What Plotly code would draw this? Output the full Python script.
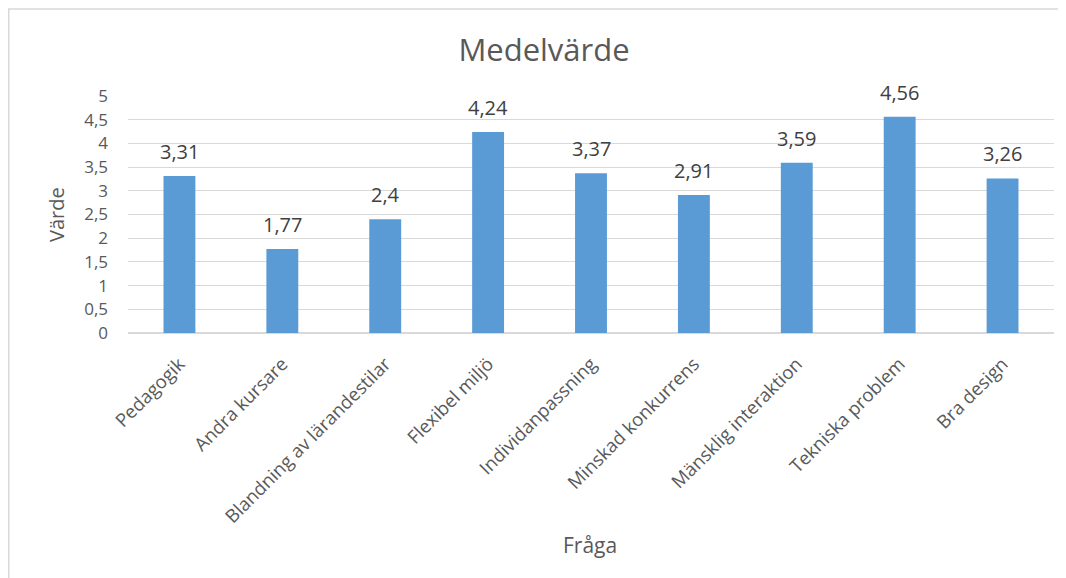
import plotly.graph_objects as go

categories = ["Pedagogik", "Andra kursare", "Blandning av lärandestilar", "Flexibel miljö",
              "Individanpassning", "Minskad konkurrens", "Mänsklig interaktion",
              "Tekniska problem", "Bra design"]
values = [3.31, 1.77, 2.4, 4.24, 3.37, 2.91, 3.59, 4.56, 3.26]
y_ticks = [0, 0.5, 1, 1.5, 2, 2.5, 3, 3.5, 4, 4.5, 5]
y_tick_labels = ["0", "0,5", "1", "1,5", "2", "2,5", "3", "3,5", "4", "4,5", "5"]

FONT = "Open Sans"
GRAY = "#595959"

L, R, T, B = 120, 20, 88, 253
W, H = 1066, 578
PW, PH = W - L - R, H - T - B

fig = go.Figure()
fig.add_trace(go.Bar(x=categories, y=values, marker=dict(color="#5B9BD5", line=dict(width=0)),
                     width=0.31))

annotations = []
for c, v in zip(categories, values):
    annotations.append(dict(x=c, y=v, xref="x", yref="y", text=f"{v:g}".replace(".", ","),
                            showarrow=False, yanchor="bottom", yshift=9,
                            font=dict(family=FONT, size=20, color="#404040")))
annotations.append(dict(xref="paper", yref="paper", x=(48 - L) / PW, y=(325 - 207) / PH,
                        text="Värde", textangle=-90, xanchor="center", yanchor="middle",
                        showarrow=False, font=dict(family=FONT, size=20, color=GRAY)))
annotations.append(dict(xref="paper", yref="paper", x=(582 - L) / PW, y=(325 - 537) / PH,
                        text="Fråga", xanchor="center", yanchor="middle",
                        showarrow=False, font=dict(family=FONT, size=21, color=GRAY)))

fig.update_layout(
    width=W, height=H,
    paper_bgcolor="white", plot_bgcolor="white",
    margin=dict(l=L, r=R, t=T, b=B),
    showlegend=False,
    title=dict(text="Medelvärde", x=536 / W, xref="container", y=1 - 42 / H, yref="container",
               xanchor="center", yanchor="middle",
               font=dict(family=FONT, size=31, color=GRAY)),
    annotations=annotations,
    shapes=[dict(type="rect", xref="paper", yref="paper",
                 x0=(0.75 - L) / PW, x1=(W + 20 - L) / PW,
                 y0=(325 - 600) / PH, y1=(325 - 1) / PH,
                 line=dict(color="#D9D9D9", width=1.5), fillcolor="rgba(0,0,0,0)", layer="below")],
    xaxis=dict(tickangle=-45, tickfont=dict(family=FONT, size=18.5, color=GRAY),
               showgrid=False, showline=True, linecolor="#D9D9D9", linewidth=1,
               ticks="outside", ticklen=12, tickcolor="rgba(0,0,0,0)", automargin=False),
    yaxis=dict(range=[0, 5], tickvals=y_ticks, ticktext=y_tick_labels,
               tickfont=dict(family=FONT, size=17, color=GRAY),
               showgrid=True, gridcolor="#D9D9D9", gridwidth=1, zeroline=True,
               zerolinecolor="#D9D9D9", showline=False, ticklabelstandoff=19, automargin=False),
)

fig.write_html("out.html")
